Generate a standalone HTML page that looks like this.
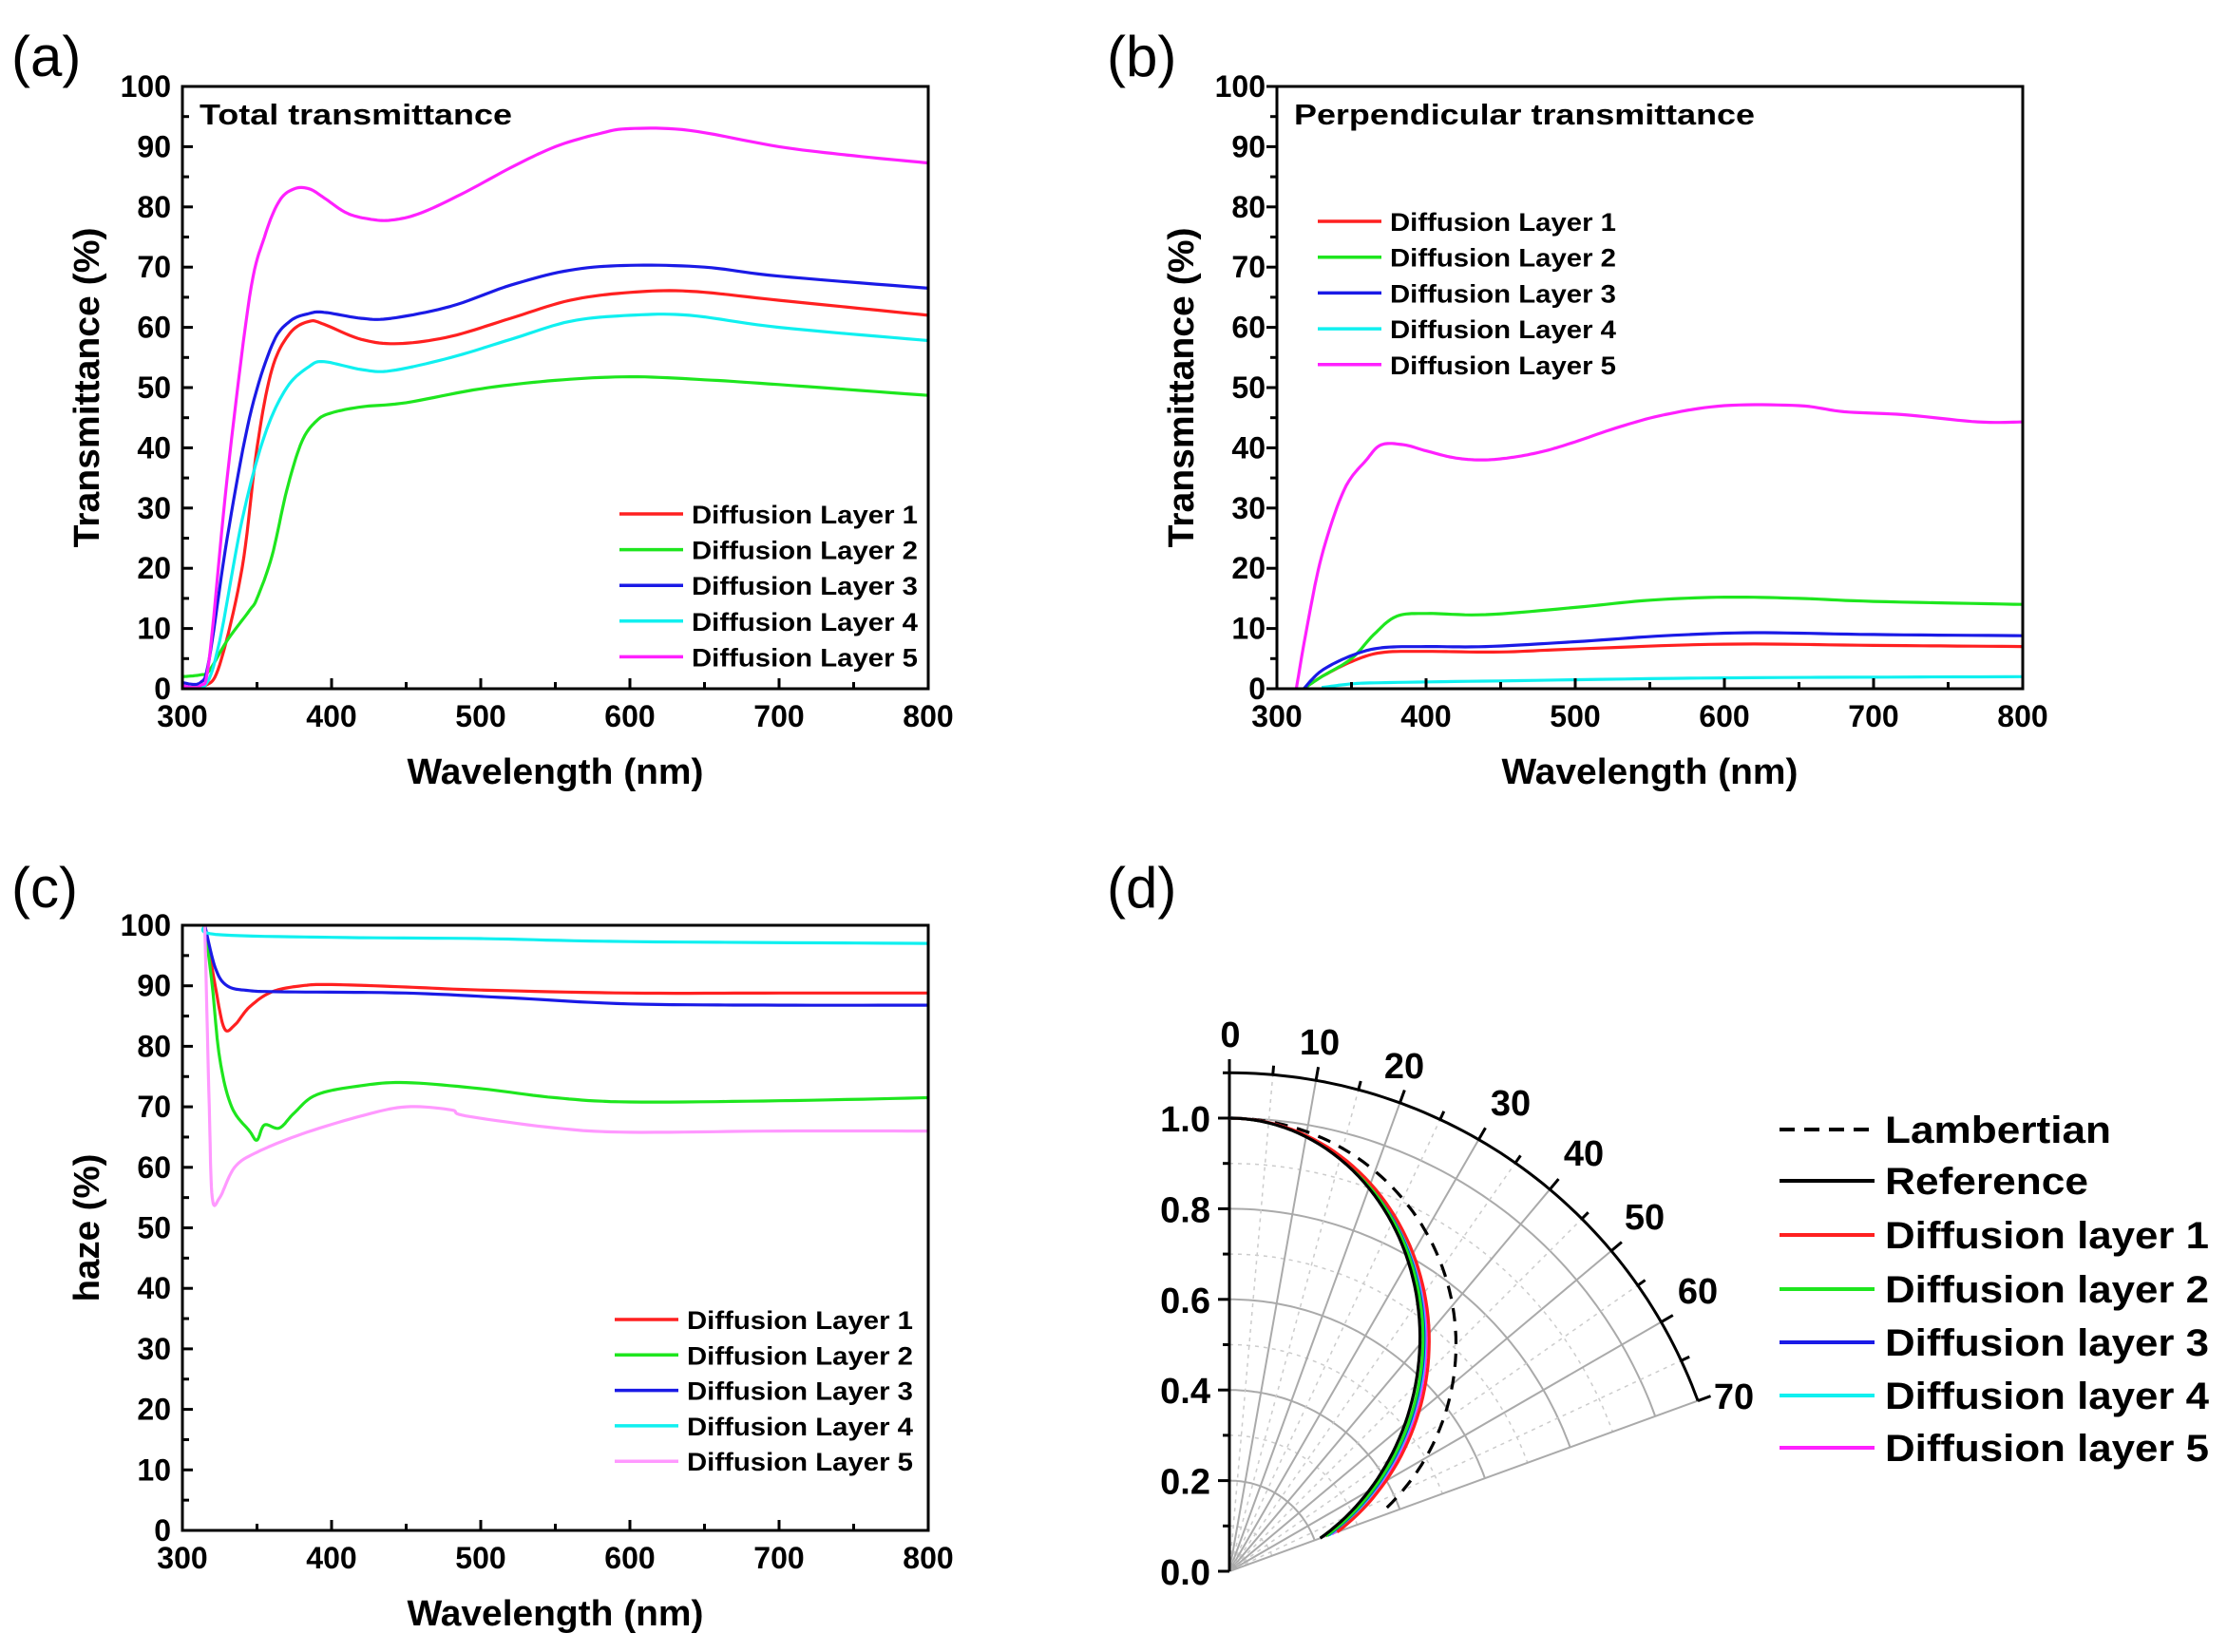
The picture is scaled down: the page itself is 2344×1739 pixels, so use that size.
<!DOCTYPE html>
<html><head><meta charset="utf-8"><style>
html,body{margin:0;padding:0;background:#fff}
svg{display:block}
text{font-family:"Liberation Sans",Arial,sans-serif;fill:#000}
.b{font-weight:bold}
</style></head><body>
<svg id="s" width="2344" height="1739" viewBox="0 0 2344 1739" xmlns="http://www.w3.org/2000/svg"></svg>
<script>
const S=document.getElementById('s');let h='';
function T(x,y,t,o){o=o||{};h+=`<text x="${x}" y="${y}" class="${o.n?'':'b'}" font-size="${o.fs||32}" text-anchor="${o.a||'start'}" ${o.tl?`textLength="${o.tl}" lengthAdjust="spacingAndGlyphs"`:''} ${o.tr?`transform="${o.tr}"`:''}>${t}</text>`;}
function interp(pts){
  let out=[];for(let i=0;i<pts.length-1;i++){const p0=pts[Math.max(0,i-1)],p1=pts[i],p2=pts[i+1],p3=pts[Math.min(pts.length-1,i+2)];
  for(let t=0;t<1;t+=0.1){const t2=t*t,t3=t2*t;
  const f=(a,b,c,d)=>0.5*((2*b)+(-a+c)*t+(2*a-5*b+4*c-d)*t2+(-a+3*b-3*c+d)*t3);
  out.push([f(p0[0],p1[0],p2[0],p3[0]),f(p0[1],p1[1],p2[1],p3[1])]);}}
  out.push(pts[pts.length-1]);return out;}
function panel(L,R,Tp,B,ylab,title,series,leg,outLeft){
  const X=v=>L+(v-300)/500*(R-L),Y=v=>B-v/100*(B-Tp);
  h+=`<defs><clipPath id="c${L}${Tp}"><rect x="${L}" y="${Tp}" width="${R-L}" height="${B-Tp}"/></clipPath></defs>`;
  h+=`<g clip-path="url(#c${L}${Tp})">`;
  for(const s of series){const p=interp(s.d).map(q=>[X(q[0]).toFixed(1),Y(q[1]).toFixed(1)]);
    h+=`<polyline points="${p.join(' ')}" fill="none" stroke="${s.c}" stroke-width="3.2" stroke-linejoin="round"/>`;}
  h+='</g>';
  h+=`<rect x="${L}" y="${Tp}" width="${R-L}" height="${B-Tp}" fill="none" stroke="#000" stroke-width="3"/>`;
  for(let v=300;v<=800;v+=50){const x=X(v),len=v%100==0?11:7;h+=`<line x1="${x}" y1="${B}" x2="${x}" y2="${B-len}" stroke="#000" stroke-width="3"/>`;
    if(v%100==0)T(x,B+40,v,{a:'middle',fs:32});}
  for(let v=0;v<=100;v+=5){const y=Y(v),len=v%10==0?11:7;
    h+=`<line x1="${L}" y1="${y}" x2="${outLeft?L-len:L+len}" y2="${y}" stroke="#000" stroke-width="3"/>`;
    if(v%10==0)T(L-12,y+11,v,{a:'end',fs:32});}
  T((L+R)/2,B+100,'Wavelength (nm)',{a:'middle',fs:38,tl:312});
  T(0,0,ylab.t,{a:'middle',fs:38,tl:ylab.w,tr:`translate(${L-88},${(Tp+B)/2}) rotate(-90)`});
  if(title)T(L+18,Tp+40,title.t,{fs:31,tl:title.w});
  series.forEach((s,i)=>{const y=leg.y+i*leg.dy;h+=`<line x1="${leg.x}" y1="${y}" x2="${leg.x+67}" y2="${y}" stroke="${s.c}" stroke-width="3.5"/>`;
    T(leg.x+76,y+10,'Diffusion Layer '+(i+1),{fs:27,tl:238});});
}
const R='#ff2020',G='#1ee61e',Bl='#1a1ae6',C='#10f0f0',M='#ff20ff',P='#ff99ff';
panel(192,977,91,725,{t:'Transmittance (%)',w:337},{t:'Total transmittance',w:329},[
{c:R,d:[[300,.3],[315,.5],[325,4],[340,20],[350,40],[360,53],[372,59],[385,61],[395,60.5],[420,58],[445,57.3],[480,58.5],[520,61.5],[560,64.5],[600,65.8],[640,66],[700,64.5],[800,62]]},
{c:G,d:[[300,2],[312,2.3],[318,3],[330,8],[345,13],[350,15],[360,22],[370,33],[380,41],[390,44.5],[400,45.8],[420,46.8],[450,47.5],[500,49.8],[550,51.2],[600,51.8],[650,51.3],[700,50.5],[800,48.7]]},
{c:Bl,d:[[300,1],[312,1],[318,5],[330,25],[345,45],[360,57],[372,61],[385,62.3],[395,62.5],[420,61.5],[440,61.5],[480,63.5],[520,67],[560,69.5],[600,70.3],[650,70],[700,68.5],[800,66.5]]},
{c:C,d:[[300,.5],[315,.5],[325,8],[340,28],[355,42],[370,50],[385,53.5],[395,54.3],[420,53],[440,52.8],[480,55],[520,58],[560,61],[600,62],[640,62],[700,60],[800,57.8]]},
{c:M,d:[[300,.5],[312,.5],[318,5],[330,35],[345,65],[355,75],[365,81],[375,83],[385,83],[395,81.5],[410,79],[425,78],[440,77.8],[460,79],[490,82.5],[520,86.5],[550,90],[580,92.2],[600,93],[640,92.7],[700,90],[750,88.5],[800,87.3]]}
],{x:652,y:541,dy:37.6});
panel(1344,2129,91,725,{t:'Transmittance (%)',w:337},{t:'Perpendicular transmittance',w:485},[
{c:R,d:[[318,0],[330,2],[350,4.5],[370,6],[400,6.2],[450,6.1],[500,6.6],[600,7.4],[700,7.2],[800,7]]},
{c:G,d:[[318,0],[330,2],[350,5],[365,9],[380,12],[400,12.5],[440,12.3],[500,13.5],[550,14.7],[600,15.2],[650,15],[700,14.5],[800,14]]},
{c:Bl,d:[[318,0],[330,3],[350,5.5],[370,6.8],[400,7],[440,7],[500,7.8],[560,8.8],[620,9.3],[700,9],[800,8.8]]},
{c:C,d:[[330,.2],[350,.8],[370,1],[450,1.3],[600,1.8],[800,2]]},
{c:M,d:[[313,0],[320,10],[330,22],[345,33],[360,38],[370,40.5],[385,40.5],[400,39.5],[420,38.3],[440,38],[460,38.5],[480,39.5],[500,41],[530,43.5],[560,45.5],[600,47],[650,47],[680,46],[720,45.5],[770,44.3],[800,44.3]]}
],{x:1387,y:233,dy:37.7},true);
panel(192,977,974,1611,{t:'haze (%)',w:156},null,[
{c:R,d:[[315,100],[322,90],[328,83],[335,83.5],[345,86.5],[360,89],[380,90],[400,90.2],[450,89.8],[500,89.3],[600,88.8],[700,88.8],[800,88.8]]},
{c:G,d:[[315,100],[320,90],[325,78],[333,70],[345,66],[350,64.5],[355,67],[365,66.5],[375,69],[390,72],[420,73.5],[450,74],[500,73],[550,71.5],[600,70.8],[700,71],[800,71.5]]},
{c:Bl,d:[[315,100],[322,93],[330,90],[345,89.2],[370,89],[450,88.8],[520,88],[600,87],[700,86.8],[800,86.8]]},
{c:C,d:[[315,100],[322,98.5],[400,98],[500,97.8],[600,97.3],[800,97]]},
{c:P,d:[[315,100],[318,70],[320,55],[325,55],[335,60],[350,62.5],[380,65.5],[420,68.5],[450,70],[480,69.5],[490,68.5],[550,66.5],[600,65.8],[700,66],[800,66]]}
],{x:647,y:1389,dy:37.3});
T(12,80,'(a)',{n:1,fs:60});T(1165,80,'(b)',{n:1,fs:60});T(12,955,'(c)',{n:1,fs:60});T(1165,955,'(d)',{n:1,fs:60});
const ox=1294,oy=1654,RR=477;
const P2=(r,a)=>{a=a*Math.PI/180;return[ox+r*RR*Math.sin(a),oy-r*RR*Math.cos(a)];};
function arc(r,st,w,dash){let p=[];for(let a=0;a<=70;a+=1)p.push(P2(r,a).map(v=>v.toFixed(1)));h+=`<polyline points="${p.join(' ')}" fill="none" stroke="${st}" stroke-width="${w}" ${dash?'stroke-dasharray="4 5"':''}/>`;}
for(let r=0.1;r<1.05;r+=0.1){const maj=Math.round(r*10)%2==0;arc(r,maj?'#aaa':'#ccc',maj?2:1.5,!maj);}
for(let a=5;a<=70;a+=5){const e=P2(1.1,a);const maj=a%10==0;h+=`<line x1="${ox}" y1="${oy}" x2="${e[0]}" y2="${e[1]}" stroke="${maj?'#aaa':'#ccc'}" stroke-width="${maj?2:1.5}" ${maj?'':'stroke-dasharray="4 5"'}/>`;}
arc(1.1,'#000',3);
for(let a=0;a<=70;a+=5){const p1=P2(1.1,a),p2=P2(a%10==0?1.13:1.12,a);h+=`<line x1="${p1[0]}" y1="${p1[1]}" x2="${p2[0]}" y2="${p2[1]}" stroke="#000" stroke-width="3"/>`;}
h+=`<line x1="${ox}" y1="${oy}" x2="${ox}" y2="${oy-1.1*RR}" stroke="#000" stroke-width="3"/>`;
for(let i=0;i<=11;i++){const y=oy-i*0.1*RR;h+=`<line x1="${ox}" y1="${y}" x2="${ox-(i%2?7:12)}" y2="${y}" stroke="#000" stroke-width="3"/>`;if(i%2==0&&i<=10)T(ox-20,y+14,(i/10).toFixed(1),{a:'end',fs:38});}
[[0,1295,1102],[10,1389,1110],[20,1478,1135],[30,1590,1174],[40,1667,1227],[50,1731,1294],[60,1787,1372],[70,1825,1483]].forEach(q=>T(q[1],q[2],q[0],{a:'middle',fs:38}));
function curve(n,col,dash,end){let p=[];for(let a=0;a<=(end||70);a+=1){const c=Math.cos(a*Math.PI/180);const nn=n*(1-0.2*a/70);const r=Math.pow(c,nn);p.push(P2(r,a).map(v=>v.toFixed(1)));}
h+=`<polyline points="${p.join(' ')}" fill="none" stroke="${col}" stroke-width="3.2" ${dash?'stroke-dasharray="14 10"':''}/>`;}
let lp=[];for(let a=0;a<=68;a++){lp.push(P2(Math.cos(a*Math.PI/180),a).map(v=>v.toFixed(1)));}
h+=`<polyline points="${lp.join(' ')}" fill="none" stroke="#000" stroke-width="3.2" stroke-dasharray="14 10"/>`;
curve(1.66,M);curve(1.69,C);curve(1.71,Bl);curve(1.73,G);curve(1.6,R);curve(1.8,'#000');
const lg=[['Lambertian','#000',1],['Reference','#000'],['Diffusion layer 1',R],['Diffusion layer 2',G],['Diffusion layer 3',Bl],['Diffusion layer 4',C],['Diffusion layer 5',M]];
const ly=[1189,1243,1300,1357,1413,1469,1524];
lg.forEach((l,i)=>{h+=`<line x1="1873" y1="${ly[i]}" x2="1973" y2="${ly[i]}" stroke="${l[1]}" stroke-width="4" ${l[2]?'stroke-dasharray="16 10"':''}/>`;
 T(1984,ly[i]+14,l[0],{fs:40,tl:i==0?238:i==1?214:341});});
S.innerHTML=h;
</script>
</body></html>
